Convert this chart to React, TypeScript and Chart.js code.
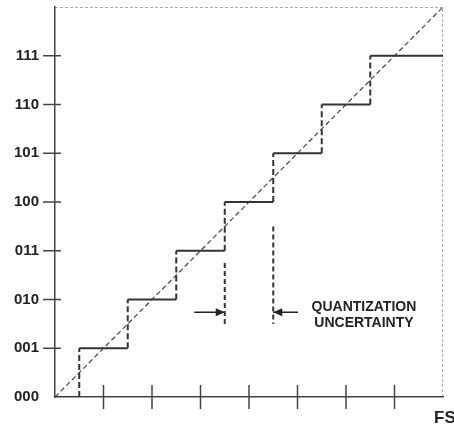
import React, { useEffect, useRef } from 'react';
import { Chart, registerables } from 'chart.js';

Chart.register(...registerables);

// ---- data ----
const codes = ['000', '001', '010', '011', '100', '101', '110', '111'];
const transitions = [0.5, 1.5, 2.5, 3.5, 4.5, 5.5, 6.5];
const fullScale = 8;
const xTickValues = [1, 2, 3, 4, 5, 6, 7];
const uncertaintyX = [3.5, 4.5];
const uncertaintyTop = [2.75, 3.5];
const uncertaintyBottom = 1.5;
const arrowY = 1.74;
const arrowTails = [2.87, 5.01];
const annotationLines = ['QUANTIZATION', 'UNCERTAINTY'];
const annotationX = 6.37;
const annotationY = [1.85, 1.52];
const fsLabel = 'FS';

const INK = '#333333';
const AXIS = '#444444';

export default function App() {
  const ref = useRef<HTMLCanvasElement | null>(null);

  useEffect(() => {
    if (!ref.current) return;

    const stepData: any[] = [];
    codes.forEach((_, k) => {
      const start = k === 0 ? 0 : transitions[k - 1];
      const end = k === codes.length - 1 ? fullScale : transitions[k];
      stepData.push({ x: start, y: k }, { x: end, y: k }, { x: end, y: null });
    });
    const riserData: any[] = [];
    transitions.forEach((t, k) => {
      riserData.push({ x: t, y: k }, { x: t, y: k + 1 }, { x: t, y: null });
    });
    const uncData: any[] = [];
    uncertaintyX.forEach((x, i) => {
      uncData.push({ x, y: uncertaintyTop[i] }, { x, y: uncertaintyBottom }, { x, y: null });
    });
    const arrowData: any[] = [];
    arrowTails.forEach((t, i) => {
      arrowData.push({ x: t, y: arrowY }, { x: uncertaintyX[i], y: arrowY }, { x: t, y: null });
    });

    const decor = {
      id: 'decor',
      afterDatasetsDraw(chart: any) {
        const ctx = chart.ctx;
        const xs = chart.scales.x;
        const ys = chart.scales.y;
        const x0 = xs.getPixelForValue(0);
        const y0 = ys.getPixelForValue(0);
        ctx.save();
        ctx.strokeStyle = AXIS;
        ctx.lineWidth = 1.5;
        ctx.setLineDash([]);
        // y tick marks
        codes.forEach((_, k) => {
          if (k === 0) return;
          const py = ys.getPixelForValue(k);
          ctx.beginPath();
          ctx.moveTo(x0 - 12, py);
          ctx.lineTo(x0 + 6, py);
          ctx.stroke();
        });
        // x tick marks
        xTickValues.forEach((v) => {
          const px = xs.getPixelForValue(v);
          ctx.beginPath();
          ctx.moveTo(px, y0 - 12);
          ctx.lineTo(px, y0 + 12);
          ctx.stroke();
        });
        // arrowheads
        ctx.fillStyle = '#222';
        uncertaintyX.forEach((ux, i) => {
          const tip = xs.getPixelForValue(ux);
          const py = ys.getPixelForValue(arrowY);
          const dir = arrowTails[i] < ux ? 1 : -1;
          ctx.beginPath();
          ctx.moveTo(tip, py);
          ctx.lineTo(tip - dir * 9, py - 4);
          ctx.lineTo(tip - dir * 9, py + 4);
          ctx.closePath();
          ctx.fill();
        });
        // annotation text
        ctx.fillStyle = '#222';
        ctx.font = 'bold 14px "Liberation Sans", Arial, sans-serif';
        ctx.textAlign = 'center';
        ctx.textBaseline = 'middle';
        annotationLines.forEach((t, i) => {
          ctx.fillText(t, xs.getPixelForValue(annotationX), ys.getPixelForValue(annotationY[i]));
        });
        // FS
        ctx.font = 'bold 17px "Liberation Sans", Arial, sans-serif';
        ctx.textAlign = 'left';
        ctx.fillText(fsLabel, xs.getPixelForValue(fullScale) - 9, y0 + 21);
        ctx.restore();
      },
    };

    const chart = new Chart(ref.current, {
      type: 'line',
      data: {
        datasets: [
          { data: stepData, borderColor: INK, borderWidth: 2, pointRadius: 0, spanGaps: false },
          { data: riserData, borderColor: INK, borderWidth: 2, borderDash: [6, 3], pointRadius: 0, spanGaps: false },
          { data: uncData, borderColor: INK, borderWidth: 2, borderDash: [5, 3], pointRadius: 0, spanGaps: false },
          { data: arrowData, borderColor: '#222', borderWidth: 1.5, pointRadius: 0, spanGaps: false },
          {
            data: [{ x: 0, y: 0 }, { x: fullScale, y: fullScale }],
            borderColor: '#444', borderWidth: 1.2, borderDash: [5, 3], pointRadius: 0,
          },
          {
            data: [{ x: 0, y: fullScale }, { x: fullScale, y: fullScale }, { x: fullScale, y: 0 }],
            borderColor: '#555', borderWidth: 1, borderDash: [3, 2], pointRadius: 0,
          },
        ],
      },
      options: {
        responsive: false,
        animation: false,
        devicePixelRatio: 1,
        layout: { padding: { top: 7, right: 11, left: 0, bottom: 0 } },
        plugins: { legend: { display: false }, tooltip: { enabled: false } },
        elements: { line: { tension: 0 } },
        scales: {
          x: {
            type: 'linear',
            min: 0,
            max: fullScale,
            grid: { display: false, drawTicks: false },
            border: { display: true, color: AXIS, width: 1.5 },
            ticks: { display: false },
            afterFit: (s: any) => {
              s.height = 35;
              s.paddingLeft = 0;
              s.paddingRight = 0;
            },
          },
          y: {
            type: 'linear',
            min: 0,
            max: fullScale,
            grid: { display: false, drawTicks: false },
            border: { display: true, color: AXIS, width: 1.5 },
            afterBuildTicks: (s: any) => {
              s.ticks = codes.map((_, i) => ({ value: i }));
            },
            ticks: {
              padding: 16,
              color: '#222',
              font: { family: '"Liberation Sans", Arial, sans-serif', size: 15, weight: 'bold' },
              callback: (v: any) => codes[v] ?? '',
            },
            afterFit: (s: any) => {
              s.width = 55;
              s.paddingTop = 0;
              s.paddingBottom = 0;
            },
          },
        },
      } as any,
      plugins: [decor],
    });
    return () => chart.destroy();
  }, []);

  return (
    <div style={{ position: 'fixed', left: 0, top: 0, width: 454, height: 432, background: '#fff' }}>
      <canvas ref={ref} width={454} height={432} style={{ display: 'block' }} />
    </div>
  );
}
